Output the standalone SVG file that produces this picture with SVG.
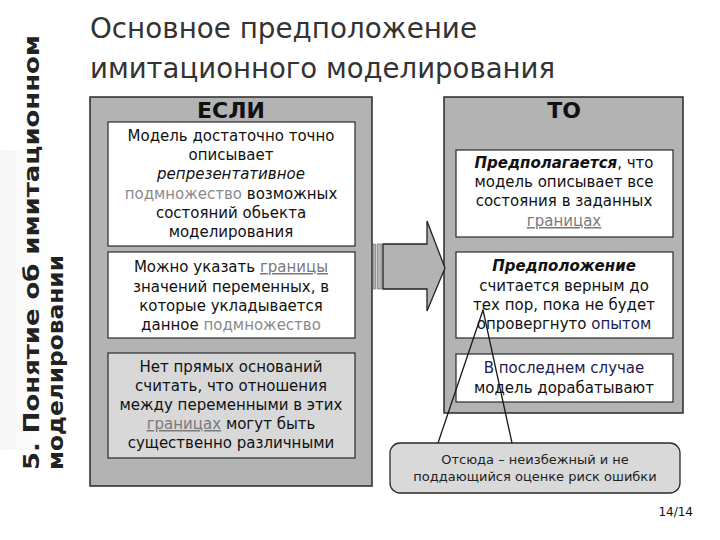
<svg xmlns="http://www.w3.org/2000/svg" width="720" height="540" viewBox="0 0 720 540">
<style>
text{font-family:"DejaVu Sans","Liberation Sans",sans-serif;fill:#111}
.side{font-weight:bold;font-size:22px;fill:#222}
.title{font-size:29px;fill:#333}
.hdr{font-weight:bold;font-size:22px;text-anchor:middle}
.t{font-size:15px;text-anchor:middle}
.g{fill:#8a8a8a}
.u{fill:#7a7a7a;text-decoration:underline}
.nv{fill:#1c1c50}
.big{fill:#b3b3b3;stroke:#2a2a2a;stroke-width:1.5}
.wb{fill:#fff;stroke:#2a2a2a;stroke-width:1.2}
.lb{fill:#d8d8d8;stroke:#2a2a2a;stroke-width:1.2}
.c{font-size:13px;text-anchor:middle;fill:#222}
</style>
<defs>
<linearGradient id="sb" x1="0" y1="0" x2="1" y2="0">
<stop offset="0" stop-color="#f5f5f5"/>
<stop offset="1" stop-color="#ffffff"/>
</linearGradient>
</defs>
<rect width="720" height="540" fill="#fff"/>
<rect x="0" y="150" width="45" height="300" fill="url(#sb)"/>

<g id="sidebar">
<text class="side" x="39" y="470" transform="rotate(-90 39 470)" textLength="435" lengthAdjust="spacingAndGlyphs">5. Понятие об имитационном</text>
<text class="side" x="63" y="470" transform="rotate(-90 63 470)" textLength="215" lengthAdjust="spacingAndGlyphs">моделировании</text>
</g>

<g id="title">
<text class="title" x="90" y="38" textLength="387" lengthAdjust="spacingAndGlyphs">Основное предположение</text>
<text class="title" x="90" y="78" textLength="465" lengthAdjust="spacingAndGlyphs">имитационного моделирования</text>
</g>

<g id="if-panel">
<rect class="big" x="90" y="97" width="282" height="389"/>
<text class="hdr" x="231" y="118">ЕСЛИ</text>
</g>

<g id="if-1">
<rect class="wb" x="108" y="122" width="247" height="124"/>
<text class="t" x="231" y="141">Модель достаточно точно</text>
<text class="t" x="231" y="160">описывает</text>
<text class="t" x="231" y="179" font-style="italic">репрезентативное</text>
<text class="t" x="231" y="199"><tspan class="g">подмножество</tspan> возможных</text>
<text class="t" x="231" y="218">состояний обьекта</text>
<text class="t" x="231" y="237">моделирования</text>
</g>

<g id="if-2">
<rect class="wb" x="108" y="252" width="247" height="86"/>
<text class="t" x="231" y="272">Можно указать <tspan class="u">границы</tspan></text>
<text class="t" x="231" y="292">значений переменных, в</text>
<text class="t" x="231" y="311">которые укладывается</text>
<text class="t" x="231" y="330">данное <tspan class="g">подмножество</tspan></text>
</g>

<g id="if-3">
<rect class="lb" x="108" y="353" width="247" height="105"/>
<text class="t" x="231" y="372">Нет прямых оснований</text>
<text class="t" x="231" y="391">считать, что отношения</text>
<text class="t" x="231" y="410">между переменными в этих</text>
<text class="t" x="231" y="429"><tspan class="u">границах</tspan> могут быть</text>
<text class="t" x="231" y="448">существенно различными</text>
</g>

<g id="then-panel">
<rect class="big" x="444" y="97" width="239" height="316"/>
<text class="hdr" x="564" y="118">ТО</text>
</g>

<g id="then-1">
<rect class="wb" x="456" y="150" width="217" height="87"/>
<text class="t" x="564" y="168"><tspan font-weight="bold" font-style="italic">Предполагается</tspan>, что</text>
<text class="t" x="564" y="187">модель описывает все</text>
<text class="t" x="564" y="206">состояния в заданных</text>
<text class="t" x="564" y="226"><tspan class="u">границах</tspan></text>
</g>

<g id="then-2">
<rect class="wb" x="456" y="252" width="217" height="86"/>
<text class="t" x="564" y="271" font-weight="bold" font-style="italic">Предположение</text>
<text class="t" x="564" y="291">считается верным до</text>
<text class="t" x="564" y="310">тех пор, пока не будет</text>
<text class="t" x="564" y="329">опровергнуто <tspan class="nv">опытом</tspan></text>
</g>

<g id="then-3">
<rect class="wb" x="456" y="354" width="217" height="48"/>
<text class="t nv" x="564" y="373">В последнем случае</text>
<text class="t" x="564" y="393">модель дорабатывают</text>
</g>

<g id="connectors">
<rect x="373" y="244" width="2.5" height="45" fill="#b3b3b3" stroke="#666" stroke-width="0.6"/>
<rect x="377" y="244" width="5" height="45" fill="#b3b3b3" stroke="#666" stroke-width="0.6"/>
<polygon points="383,244 427,244 427,221 445,268 427,311 427,289 383,289" fill="#b3b3b3" stroke="#222" stroke-width="1.3"/>
</g>

<g id="callout">
<rect x="390" y="443" width="290" height="50" rx="10" ry="10" fill="#d9d9d9" stroke="#2a2a2a" stroke-width="1.3"/>
<polyline points="438,443 483,310 512,443" fill="none" stroke="#1a1a1a" stroke-width="1.3"/>
<text class="c" x="535" y="464">Отсюда – неизбежный и не</text>
<text class="c" x="535" y="481">поддающийся оценке риск ошибки</text>
</g>

<text x="693" y="516" font-size="12" fill="#a0a0a0" text-anchor="end">14/14</text>
</svg>
